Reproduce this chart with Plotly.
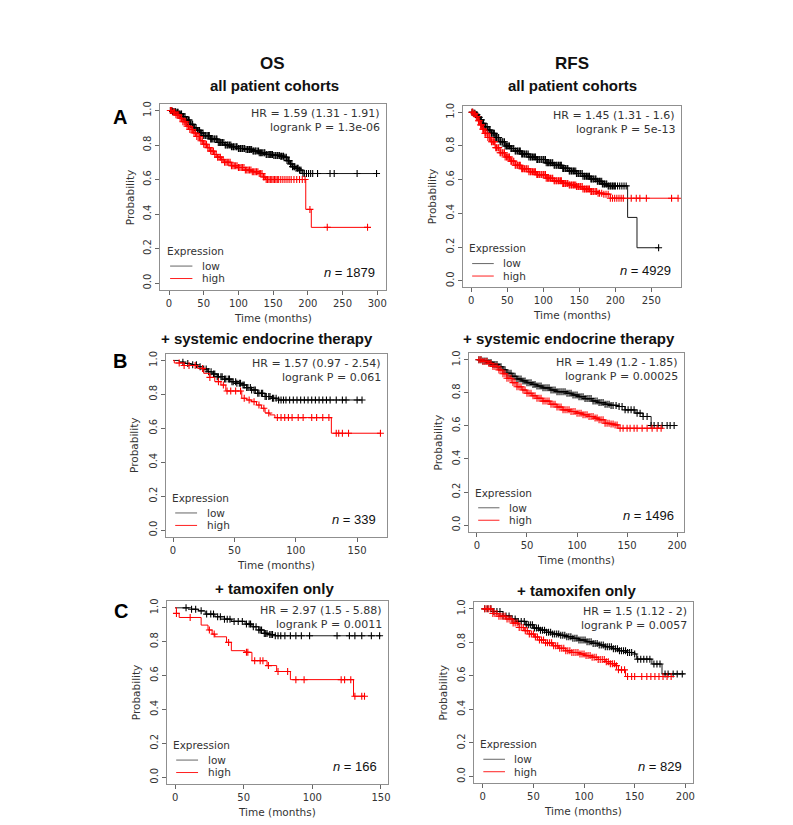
import numpy as np
import plotly.graph_objects as go

W, H = 793, 825

# ---------------- data ----------------
# Panel A, OS
A_OS_LOW_T = [0, 5, 10, 15, 20, 25, 30, 35, 40, 45, 50, 60, 70, 80, 90, 100, 110, 120, 130, 140, 150, 160, 166, 170, 174, 178, 183, 188, 192, 300]
A_OS_LOW_S = [1, 0.995, 0.99, 0.98, 0.965, 0.945, 0.92, 0.9, 0.885, 0.87, 0.855, 0.835, 0.815, 0.8, 0.79, 0.78, 0.775, 0.765, 0.755, 0.745, 0.74, 0.735, 0.73, 0.71, 0.69, 0.675, 0.665, 0.655, 0.635, 0.635]
A_OS_LOW_C = [2, 4, 5, 7, 9, 10, 12, 13, 15, 17, 18, 20, 21, 23, 25, 26, 28, 29, 31, 33, 34, 36, 37, 39, 41, 42, 44, 45, 47, 49, 50, 52, 53, 55, 57, 58, 60, 61, 63, 65, 66, 68, 69, 71, 73, 74, 76, 77, 79, 81, 82, 84, 85, 87, 89, 90, 92, 93, 95, 97, 98, 100, 101, 103, 105, 106, 108, 109, 111, 113, 114, 116, 117, 119, 121, 122, 124, 125, 127, 129, 130, 132, 133, 135, 137, 138, 140, 141, 143, 145, 146, 148, 149, 151, 153, 154, 156, 157, 159, 161, 162, 164, 165, 167, 169, 170, 172, 173, 175, 177, 178, 180, 181, 183, 185, 186, 188, 190, 193, 195, 198, 201, 204, 207, 214, 232, 238, 271, 299]
A_OS_HIGH_T = [0, 5, 10, 15, 20, 25, 30, 35, 40, 45, 50, 55, 60, 65, 70, 75, 80, 90, 100, 110, 120, 130, 136, 139, 197, 205, 286]
A_OS_HIGH_S = [1, 0.99, 0.975, 0.955, 0.935, 0.91, 0.89, 0.87, 0.85, 0.825, 0.805, 0.785, 0.765, 0.745, 0.73, 0.715, 0.7, 0.68, 0.67, 0.655, 0.645, 0.635, 0.615, 0.6, 0.427, 0.323, 0.323]
A_OS_HIGH_C = [2, 4, 6, 8, 10, 12, 14, 16, 18, 20, 22, 24, 26, 28, 30, 32, 34, 36, 38, 40, 42, 44, 46, 48, 50, 52, 54, 56, 58, 60, 62, 64, 66, 68, 70, 72, 74, 76, 78, 80, 82, 84, 86, 88, 90, 92, 94, 96, 98, 100, 102, 104, 106, 108, 110, 112, 114, 116, 118, 120, 122, 124, 126, 128, 130, 132, 134, 136, 138, 140, 142, 144, 146, 148, 150, 152, 154, 156, 158, 161, 164, 167, 170, 173, 176, 180, 184, 188, 192, 196, 203, 228, 286]

# Panel A, RFS
A_RFS_LOW_T = [0, 3, 6, 9, 12, 15, 19, 23, 27, 33, 40, 47, 54, 61, 70, 80, 90, 104, 115, 127, 136, 146, 155, 165, 175, 182, 189, 217, 230, 260]
A_RFS_LOW_S = [1, 0.995, 0.985, 0.97, 0.955, 0.935, 0.915, 0.895, 0.875, 0.85, 0.825, 0.8, 0.785, 0.77, 0.752, 0.735, 0.72, 0.7, 0.685, 0.667, 0.652, 0.637, 0.62, 0.604, 0.59, 0.575, 0.563, 0.376, 0.196, 0.196]
A_RFS_LOW_C = [1, 2, 4, 5, 7, 8, 10, 11, 13, 14, 16, 17, 19, 20, 22, 23, 25, 26, 28, 29, 31, 32, 34, 35, 37, 38, 40, 41, 43, 44, 46, 47, 49, 50, 52, 53, 55, 56, 58, 59, 61, 62, 64, 65, 67, 68, 70, 71, 73, 74, 76, 77, 79, 80, 82, 83, 85, 86, 88, 89, 91, 92, 94, 95, 97, 98, 100, 101, 103, 104, 106, 107, 109, 110, 112, 113, 115, 116, 118, 119, 121, 122, 124, 125, 127, 128, 130, 131, 133, 134, 136, 137, 139, 140, 142, 143, 145, 146, 148, 149, 151, 152, 154, 155, 157, 158, 160, 161, 163, 164, 166, 167, 169, 170, 172, 173, 175, 176, 178, 179, 181, 182, 184, 185, 187, 188, 190, 191, 193, 194, 196, 197, 199, 200, 203, 206, 209, 212, 215, 260]
A_RFS_HIGH_T = [0, 3, 6, 9, 12, 15, 19, 23, 27, 33, 40, 47, 54, 61, 70, 80, 90, 104, 115, 127, 136, 146, 155, 165, 175, 184, 193, 287]
A_RFS_HIGH_S = [1, 0.99, 0.975, 0.95, 0.925, 0.9, 0.875, 0.85, 0.825, 0.79, 0.76, 0.735, 0.71, 0.686, 0.665, 0.647, 0.63, 0.608, 0.593, 0.578, 0.568, 0.559, 0.545, 0.53, 0.52, 0.514, 0.49, 0.49]
A_RFS_HIGH_C = [1, 2, 4, 5, 7, 8, 10, 11, 13, 14, 16, 17, 19, 20, 22, 23, 25, 26, 28, 29, 31, 32, 34, 35, 37, 38, 40, 41, 43, 44, 46, 47, 49, 50, 52, 53, 55, 56, 58, 59, 61, 62, 64, 65, 67, 68, 70, 71, 73, 74, 76, 77, 79, 80, 82, 83, 85, 86, 88, 89, 91, 92, 94, 95, 97, 98, 100, 101, 103, 104, 106, 107, 109, 110, 112, 113, 115, 116, 118, 119, 121, 122, 124, 125, 127, 128, 130, 131, 133, 134, 136, 137, 139, 140, 142, 143, 145, 146, 148, 149, 151, 152, 154, 155, 157, 158, 160, 161, 163, 164, 166, 167, 169, 170, 172, 174, 176, 178, 181, 184, 187, 190, 193, 196, 199, 202, 205, 208, 211, 222, 229, 234, 243, 278, 287]

# Panel B, OS
B_OS_LOW_T = [0, 5, 9, 15, 20, 24, 28, 32, 36, 42, 47, 52, 56, 60, 64, 69, 75, 80, 86, 154]
B_OS_LOW_S = [1, 0.99, 0.982, 0.975, 0.963, 0.95, 0.933, 0.92, 0.904, 0.89, 0.875, 0.865, 0.855, 0.84, 0.826, 0.806, 0.787, 0.777, 0.767, 0.767]
B_OS_LOW_C = [8, 12, 16, 19, 22, 25, 27, 29, 31, 33, 34, 36, 37, 39, 40, 42, 43, 45, 46, 48, 49, 51, 52, 54, 55, 57, 58, 60, 61, 63, 64, 66, 67, 69, 70, 72, 73, 75, 76, 78, 79, 81, 82, 84, 86, 88, 90, 92, 95, 98, 101, 104, 107, 110, 113, 116, 119, 122, 125, 128, 133, 138, 141, 150, 154]
B_OS_HIGH_T = [0, 1, 9, 20, 25, 30, 34, 39, 43, 56, 60, 64, 68, 72, 75, 79, 83, 129, 169]
B_OS_HIGH_S = [1, 0.985, 0.97, 0.953, 0.924, 0.9, 0.875, 0.855, 0.82, 0.777, 0.767, 0.757, 0.737, 0.718, 0.69, 0.679, 0.663, 0.571, 0.571]
B_OS_HIGH_C = [5, 9, 13, 18, 24, 30, 37, 41, 44, 47, 51, 55, 58, 62, 66, 70, 74, 78, 85, 88, 91, 94, 97, 102, 106, 113, 117, 122, 127, 133, 135, 138, 143, 169]

# Panel B, RFS
B_RFS_LOW_T = [0, 6, 11, 16, 21, 26, 30, 35, 40, 45, 50, 55, 60, 66, 73, 80, 89, 95, 102, 108, 115, 121, 128, 134, 141, 148, 158, 166, 174, 197]
B_RFS_LOW_S = [1, 0.993, 0.984, 0.972, 0.958, 0.94, 0.918, 0.9, 0.884, 0.872, 0.861, 0.851, 0.841, 0.83, 0.817, 0.807, 0.797, 0.787, 0.777, 0.765, 0.751, 0.741, 0.731, 0.724, 0.717, 0.697, 0.677, 0.657, 0.602, 0.602]
B_RFS_LOW_C = [2, 4, 6, 8, 10, 12, 14, 16, 18, 20, 22, 24, 26, 28, 30, 32, 34, 36, 38, 40, 42, 44, 46, 48, 50, 52, 54, 56, 58, 60, 62, 64, 66, 68, 70, 72, 74, 76, 78, 80, 82, 84, 86, 88, 90, 92, 94, 96, 98, 100, 102, 104, 106, 108, 110, 112, 114, 116, 118, 120, 122, 124, 126, 128, 130, 132, 134, 136, 139, 142, 145, 148, 151, 154, 157, 160, 163, 166, 170, 174, 177, 181, 185, 190, 193, 197]
B_RFS_HIGH_T = [0, 6, 11, 16, 21, 26, 30, 35, 40, 45, 50, 55, 60, 66, 73, 80, 86, 93, 99, 106, 112, 117, 122, 128, 133, 138, 141, 184]
B_RFS_HIGH_S = [1, 0.99, 0.978, 0.96, 0.938, 0.915, 0.888, 0.862, 0.837, 0.817, 0.797, 0.782, 0.767, 0.75, 0.731, 0.714, 0.697, 0.687, 0.677, 0.667, 0.657, 0.647, 0.637, 0.616, 0.611, 0.606, 0.586, 0.586]
B_RFS_HIGH_C = [2, 4, 6, 8, 10, 12, 14, 16, 18, 20, 22, 24, 26, 28, 30, 32, 34, 36, 38, 40, 42, 44, 46, 48, 50, 52, 54, 56, 58, 60, 62, 64, 66, 68, 70, 72, 74, 76, 78, 80, 82, 84, 86, 88, 90, 92, 94, 96, 98, 100, 102, 104, 106, 108, 110, 112, 114, 116, 118, 120, 122, 124, 126, 128, 130, 132, 134, 136, 138, 140, 143, 146, 150, 153, 157, 160, 165, 170, 175, 180, 184]

# Panel C, OS
C_OS_LOW_T = [0, 12, 17, 22, 29, 36, 41, 51, 56, 61, 65, 69, 73, 150]
C_OS_LOW_S = [1, 0.992, 0.982, 0.963, 0.947, 0.933, 0.92, 0.904, 0.888, 0.869, 0.849, 0.842, 0.835, 0.835]
C_OS_LOW_C = [8, 12, 15, 19, 23, 26, 28, 31, 33, 36, 38, 40, 43, 46, 49, 52, 54, 55, 57, 59, 61, 62, 63, 65, 66, 67, 69, 70, 71, 73, 75, 77, 80, 84, 88, 92, 98, 118, 127, 131, 136, 143, 149]
C_OS_HIGH_T = [0, 1, 3, 19, 24, 27, 29, 37.5, 41, 51, 56, 67, 74, 84, 130, 138]
C_OS_HIGH_S = [1, 0.967, 0.943, 0.898, 0.869, 0.845, 0.829, 0.796, 0.747, 0.737, 0.688, 0.659, 0.624, 0.576, 0.478, 0.478]
C_OS_HIGH_C = [1, 11, 25, 28.5, 39, 52, 53, 58, 62, 64, 68, 75, 82, 88, 94, 121, 123.5, 128, 131, 136, 138]

# Panel C, RFS
C_RFS_LOW_T = [0, 10, 20, 27, 33, 42, 50, 56, 63, 69, 76, 82, 89, 95, 102, 108, 115, 121, 128, 134, 142, 150, 152, 167, 177, 199]
C_RFS_LOW_S = [1, 0.984, 0.958, 0.94, 0.925, 0.905, 0.885, 0.873, 0.86, 0.85, 0.842, 0.834, 0.824, 0.814, 0.804, 0.794, 0.784, 0.774, 0.762, 0.75, 0.74, 0.731, 0.70, 0.671, 0.612, 0.612]
C_RFS_LOW_C = [2, 5, 8, 11, 14, 17, 20, 23, 26, 29, 32, 35, 38, 41, 43, 45, 47, 49, 51, 53, 55, 57, 59, 61, 63, 65, 67, 69, 71, 73, 75, 77, 79, 81, 83, 85, 87, 89, 91, 93, 95, 97, 99, 101, 103, 105, 107, 109, 111, 113, 115, 117, 119, 121, 123, 125, 127, 129, 131, 133, 135, 137, 139, 141, 143, 145, 147, 150, 153, 156, 159, 162, 165, 169, 172, 175, 180, 183, 188, 192, 197]
C_RFS_HIGH_T = [0, 10, 16, 23, 30, 36, 41, 46, 51, 56, 62, 69, 75, 82, 88, 95, 101, 108, 114, 121, 126, 131, 134, 141, 186]
C_RFS_HIGH_S = [1, 0.972, 0.956, 0.939, 0.915, 0.889, 0.87, 0.85, 0.832, 0.814, 0.797, 0.78, 0.765, 0.75, 0.74, 0.731, 0.721, 0.711, 0.698, 0.685, 0.673, 0.661, 0.636, 0.596, 0.596]
C_RFS_HIGH_C = [2, 4, 6, 8, 10, 12, 14, 16, 18, 20, 22, 24, 26, 28, 30, 32, 34, 36, 38, 40, 42, 44, 46, 48, 50, 52, 54, 56, 58, 60, 62, 64, 66, 68, 70, 72, 74, 76, 78, 80, 82, 84, 86, 88, 90, 92, 94, 96, 98, 100, 102, 104, 106, 108, 110, 112, 114, 116, 118, 120, 122, 124, 126, 128, 130, 132, 134, 137, 140, 143, 147, 150, 157, 162, 166, 170, 174, 178, 182, 186]

# text per panel
HR_TEXT = ["HR = 1.59 (1.31 - 1.91)", "HR = 1.45 (1.31 - 1.6)", "HR = 1.57 (0.97 - 2.54)",
           "HR = 1.49 (1.2 - 1.85)", "HR = 2.97 (1.5 - 5.88)", "HR = 1.5 (1.12 - 2)"]
P_TEXT = ["logrank P = 1.3e-06", "logrank P = 5e-13", "logrank P = 0.061",
          "logrank P = 0.00025", "logrank P = 0.0011", "logrank P = 0.0057"]
N_TEXT = ["1879", "4929", "339", "1496", "166", "829"]
X_TICKS = [[0, 50, 100, 150, 200, 250, 300], [0, 50, 100, 150, 200, 250],
           [0, 50, 100, 150], [0, 50, 100, 150, 200],
           [0, 50, 100, 150], [0, 50, 100, 150, 200]]
Y_TICKS = [0, 0.2, 0.4, 0.6, 0.8, 1.0]
Y_TICK_LABELS = ["0.0", "0.2", "0.4", "0.6", "0.8", "1.0"]
COL_TITLES = ["OS", "RFS"]
ROW_TITLES = ["all patient cohorts", "+ systemic endocrine therapy", "+ tamoxifen only"]
ROW_LETTERS = ["A", "B", "C"]
GROUPS = ["low", "high"]

# ---------------- layout geometry (pixels) ----------------
BOXES = [(153, 379, 93, 280), (456.5, 675.5, 94.9, 277.5),
         (158.3, 380, 343.9, 527.8), (462.7, 678.3, 343.4, 522.6),
         (159.3, 381, 592.2, 775.8), (467.7, 687.3, 593.3, 775)]
X_RANGES = [[-12.4, 312], [-11.8, 291], [-6, 174], [-8, 206.6], [-6.1, 154.8], [-8.7, 207.3]]

curves = [
    ((A_OS_LOW_T, A_OS_LOW_S, A_OS_LOW_C), (A_OS_HIGH_T, A_OS_HIGH_S, A_OS_HIGH_C)),
    ((A_RFS_LOW_T, A_RFS_LOW_S, A_RFS_LOW_C), (A_RFS_HIGH_T, A_RFS_HIGH_S, A_RFS_HIGH_C)),
    ((B_OS_LOW_T, B_OS_LOW_S, B_OS_LOW_C), (B_OS_HIGH_T, B_OS_HIGH_S, B_OS_HIGH_C)),
    ((B_RFS_LOW_T, B_RFS_LOW_S, B_RFS_LOW_C), (B_RFS_HIGH_T, B_RFS_HIGH_S, B_RFS_HIGH_C)),
    ((C_OS_LOW_T, C_OS_LOW_S, C_OS_LOW_C), (C_OS_HIGH_T, C_OS_HIGH_S, C_OS_HIGH_C)),
    ((C_RFS_LOW_T, C_RFS_LOW_S, C_RFS_LOW_C), (C_RFS_HIGH_T, C_RFS_HIGH_S, C_RFS_HIGH_C)),
]

LINE_COL = {"low": "#1a1a1a", "high": "#ff0000"}
MARK_COL = {"low": "#000000", "high": "#ff0000"}
KEY_COL = {"low": "#666666", "high": "#ff2020"}


def step_value(t, s, c):
    idx = np.searchsorted(np.asarray(t, float), c, side="right") - 1
    return [s[i] for i in idx]


fig = go.Figure()
annotations = []
shapes = []
TXT = "DejaVu Sans"
ARIAL = "Liberation Sans"

for i in range(6):
    k = i + 1
    xs = "x" if k == 1 else f"x{k}"
    ys = "y" if k == 1 else f"y{k}"
    x0, x1, y0, y1 = BOXES[i]
    for grp, (t, s, c) in zip(GROUPS, curves[i]):
        fig.add_trace(go.Scatter(x=t, y=s, mode="lines", line=dict(color=LINE_COL[grp], width=1, shape="hv"),
                                 xaxis=xs, yaxis=ys, showlegend=False, hoverinfo="skip"))
        fig.add_trace(go.Scatter(x=c, y=step_value(t, s, c), mode="markers",
                                 marker=dict(symbol="cross-thin", size=5,
                                             line=dict(color=MARK_COL[grp], width=1.1)),
                                 xaxis=xs, yaxis=ys, showlegend=False, hoverinfo="skip"))
    xkey = "xaxis" if k == 1 else f"xaxis{k}"
    ykey = "yaxis" if k == 1 else f"yaxis{k}"
    fig.layout[xkey] = dict(domain=[x0 / W, x1 / W], range=X_RANGES[i], anchor=ys,
                            showline=True, mirror=True, linecolor="#8f8f8f", linewidth=1,
                            ticks="outside", ticklen=4, tickcolor="#666", tickvals=X_TICKS[i],
                            tickfont=dict(family=TXT, size=10, color="#333"),
                            showgrid=False, zeroline=False, fixedrange=True)
    fig.layout[ykey] = dict(domain=[1 - y1 / H, 1 - y0 / H], range=[-0.04, 1.04], anchor=xs,
                            showline=True, mirror=True, linecolor="#8f8f8f", linewidth=1,
                            ticks="outside", ticklen=4, tickcolor="#666", tickvals=Y_TICKS,
                            ticktext=Y_TICK_LABELS, tickangle=-90,
                            tickfont=dict(family=TXT, size=10, color="#333"),
                            showgrid=False, zeroline=False, fixedrange=True)
    xd, yd = f"{xs} domain", f"{ys} domain"
    common = dict(xref=xd, yref=yd, showarrow=False)
    annotations += [
        dict(text=HR_TEXT[i], x=0.982, y=0.948, xanchor="right", yanchor="middle",
             font=dict(family=TXT, size=11, color="#333"), **common),
        dict(text=P_TEXT[i], x=0.982, y=0.87, xanchor="right", yanchor="middle",
             font=dict(family=TXT, size=11, color="#333"), **common),
        dict(text="Expression", x=0.02, y=0, yshift=39, xanchor="left", yanchor="middle",
             font=dict(family=TXT, size=10.5, color="#333"), **common),
        dict(text="low", x=0.176, y=0, yshift=24, xanchor="left", yanchor="middle",
             font=dict(family=TXT, size=10.5, color="#333"), **common),
        dict(text="high", x=0.176, y=0, yshift=11.5, xanchor="left", yanchor="middle",
             font=dict(family=TXT, size=10.5, color="#333"), **common),
        dict(text=f"<i>n</i> = {N_TEXT[i]}", x=0.962, y=0.093, xanchor="right", yanchor="middle",
             font=dict(family=ARIAL, size=13, color="#111"), **common),
        dict(text="Probability", x=0, y=0.5, xshift=-31, textangle=-90, xanchor="center", yanchor="middle",
             font=dict(family=TXT, size=10.5, color="#333"), **common),
        dict(text="Time (months)", x=0.5, y=0, yshift=-28, xanchor="center", yanchor="middle",
             font=dict(family=TXT, size=10.5, color="#333"), **common),
    ]
    hgt = y1 - y0
    for grp, yy in zip(GROUPS, [24 / hgt, 11.5 / hgt]):
        shapes.append(dict(type="line", xref=xd, yref=yd, x0=0.043, x1=0.142, y0=yy, y1=yy,
                           line=dict(color=KEY_COL[grp], width=1)))

# column titles and row titles
for txt, px in zip(COL_TITLES, [265.7, 565.7]):
    annotations.append(dict(text=f"<b>{txt}</b>", x=px / W, y=1 - 53 / H, xref="paper", yref="paper",
                            showarrow=False, xanchor="center", yanchor="middle",
                            font=dict(family=ARIAL, size=17, color="#111")))
ROW_POS = [((268, 74.3), (566.5, 74.3)), ((260.3, 328.3), (563.3, 328.3)), ((267.7, 579.5), (571, 582))]
for txt, pos in zip(ROW_TITLES, ROW_POS):
    for (px, py) in pos:
        annotations.append(dict(text=f"<b>{txt}</b>", x=px / W, y=1 - py / H, xref="paper", yref="paper",
                                showarrow=False, xanchor="center", yanchor="middle",
                                font=dict(family=ARIAL, size=15, color="#111")))
for txt, (px, py) in zip(ROW_LETTERS, [(112, 106), (112, 351), (113.5, 602)]):
    annotations.append(dict(text=f"<b>{txt}</b>", x=px / W, y=1 - py / H, xref="paper", yref="paper",
                            showarrow=False, xanchor="center", yanchor="middle",
                            font=dict(family=ARIAL, size=20, color="#000")))

fig.update_layout(width=W, height=H, margin=dict(l=0, r=0, t=0, b=0),
                  paper_bgcolor="white", plot_bgcolor="white",
                  annotations=annotations, shapes=shapes, showlegend=False)
fig.write_html("out.html", config={"displayModeBar": False})
